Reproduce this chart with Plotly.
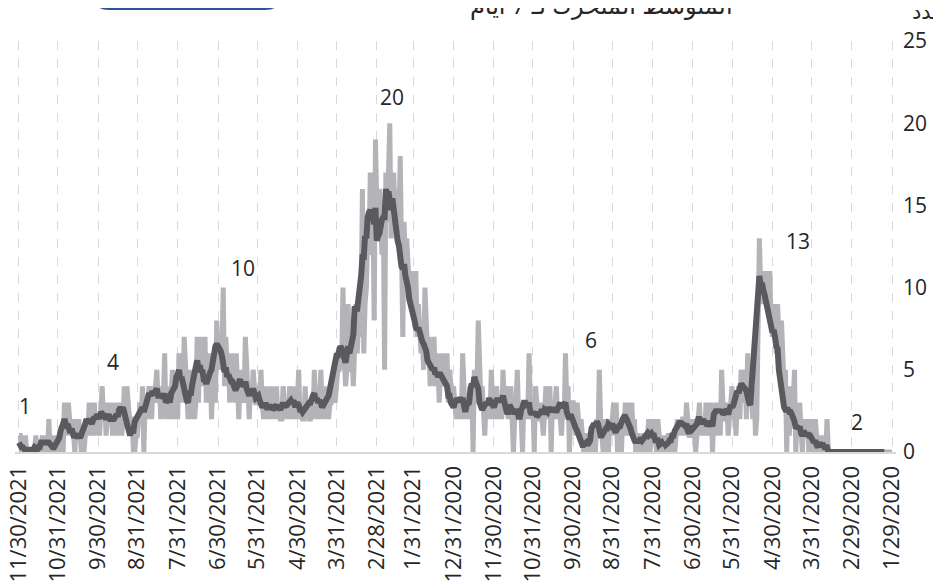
import pandas as pd
import plotly.graph_objects as go

# daily counts, one list per month (29 Jan 2020 -> 30 Nov 2021)
jan_2020 = [0, 0, 0]
feb_2020 = [0, 0, 0, 0, 0, 0, 0, 0, 0, 0, 0, 0, 0, 0, 0, 0, 0, 0, 0, 0, 0, 0, 0, 0, 0, 0, 0, 0, 0]
mar_2020 = [0, 0, 0, 0, 0, 0, 0, 0, 0, 0, 0, 0, 0, 0, 0, 0, 0, 0, 2, 0, 0, 1, 0, 0, 1, 0, 1, 2, 0, 1, 2]
apr_2020 = [1, 0, 2, 1, 1, 2, 0, 2, 3, 1, 2, 0, 5, 3, 2, 4, 1, 3, 0, 5, 4, 6, 8, 5, 7, 9, 6, 8, 9, 7]
may_2020 = [8, 11, 9, 11, 10, 11, 9, 11, 10, 13, 3, 2, 1, 4, 2, 3, 5, 4, 6, 2, 5, 3, 4, 5, 2, 4, 3, 1, 3, 2, 4]
jun_2020 = [3, 2, 1, 3, 2, 2, 3, 5, 1, 2, 2, 3, 1, 2, 0, 3, 2, 1, 2, 3, 1, 2, 2, 1, 3, 2, 1, 0, 2, 1]
jul_2020 = [2, 1, 1, 2, 3, 1, 2, 2, 1, 2, 1, 2, 1, 0, 0, 1, 0, 1, 1, 0, 0, 1, 0, 1, 0, 1, 2, 0, 1, 2, 1]
aug_2020 = [1, 0, 2, 1, 0, 1, 1, 0, 1, 0, 1, 1, 0, 2, 1, 3, 2, 3, 1, 2, 3, 1, 2, 0, 2, 1, 0, 3, 1, 3, 2]
sep_2020 = [1, 2, 0, 1, 1, 2, 0, 1, 2, 5, 1, 2, 0, 1, 0, 1, 0, 0, 1, 1, 0, 0, 1, 2, 1, 2, 3, 1, 2, 3]
oct_2020 = [3, 2, 0, 4, 3, 6, 2, 3, 1, 2, 3, 2, 4, 3, 2, 3, 0, 4, 3, 2, 4, 2, 1, 2, 3, 2, 2, 3, 4, 0, 3]
nov_2020 = [2, 3, 6, 2, 3, 2, 3, 0, 2, 3, 2, 5, 3, 2, 0, 3, 4, 3, 2, 3, 4, 3, 5, 2, 3, 2, 3, 4, 2, 3]
dec_2020 = [3, 5, 2, 3, 2, 3, 1, 3, 4, 3, 5, 8, 4, 3, 5, 0, 4, 3, 2, 3, 3, 2, 4, 6, 2, 3, 2, 3, 2, 3, 4]
jan_2021 = [3, 4, 5, 3, 6, 4, 5, 4, 6, 5, 3, 5, 6, 4, 7, 5, 6, 4, 7, 6, 8, 10, 5, 7, 6, 8, 9, 7, 11, 8, 9]
feb_2021 = [9, 11, 10, 12, 13, 11, 14, 7, 12, 18, 13, 15, 16, 14, 17, 15, 13, 20, 16, 14, 17, 5, 15, 12, 14, 16, 13, 15]
mar_2021 = [19, 8, 15, 16, 17, 12, 13, 10, 9, 6, 16, 9, 7, 8, 6, 9, 7, 4, 6, 5, 5, 9, 5, 4, 6, 10, 5, 6, 5, 5, 4]
apr_2021 = [3, 5, 4, 3, 3, 2, 3, 2, 4, 2, 3, 5, 3, 2, 4, 3, 5, 2, 3, 2, 2, 3, 2, 4, 2, 2, 3, 2, 5, 3]
may_2021 = [3, 2, 4, 2, 3, 4, 2, 3, 2, 3, 4, 2, 2, 3, 2, 4, 2, 3, 2, 4, 2, 3, 2, 4, 3, 2, 3, 5, 3, 4, 3]
jun_2021 = [3, 4, 5, 3, 4, 2, 4, 5, 7, 3, 4, 3, 5, 2, 4, 6, 3, 6, 4, 5, 3, 6, 5, 7, 4, 10, 6, 5, 7, 6]
jul_2021 = [8, 3, 5, 4, 2, 6, 4, 5, 3, 7, 4, 6, 5, 7, 3, 7, 3, 2, 4, 2, 3, 5, 2, 4, 5, 7, 3, 6, 4, 6, 2]
aug_2021 = [4, 3, 2, 5, 3, 2, 4, 3, 2, 6, 3, 4, 2, 4, 3, 5, 4, 3, 4, 2, 3, 4, 3, 2, 3, 0, 4, 2, 3, 2, 1]
sep_2021 = [1, 0, 0, 2, 2, 2, 3, 4, 2, 4, 2, 1, 3, 2, 1, 3, 2, 2, 1, 3, 2, 3, 2, 1, 3, 2, 4, 2, 1, 2]
oct_2021 = [2, 1, 3, 2, 1, 2, 3, 1, 2, 1, 0, 1, 0, 1, 2, 1, 2, 0, 1, 2, 1, 2, 3, 2, 1, 3, 0, 0, 0, 0, 1]
nov_2021 = [0, 1, 0, 0, 1, 0, 2, 0, 1, 0, 0, 1, 0, 0, 0, 0, 1, 0, 0, 0, 0, 0, 0, 0, 1, 0, 1, 0, 1, 1]

tick_dates = ["1/29/2020", "2/29/2020", "3/31/2020", "4/30/2020", "5/31/2020", "6/30/2020",
              "7/31/2020", "8/31/2020", "9/30/2020", "10/31/2020", "11/30/2020", "12/31/2020",
              "1/31/2021", "2/28/2021", "3/31/2021", "4/30/2021", "5/31/2021", "6/30/2021",
              "7/31/2021", "8/31/2021", "9/30/2021", "10/31/2021", "11/30/2021"]

daily = (jan_2020 + feb_2020 + mar_2020 + apr_2020 + may_2020 + jun_2020 + jul_2020 + aug_2020
         + sep_2020 + oct_2020 + nov_2020 + dec_2020 + jan_2021 + feb_2021 + mar_2021 + apr_2021
         + may_2021 + jun_2021 + jul_2021 + aug_2021 + sep_2021 + oct_2021 + nov_2021)
dates = pd.date_range("2020-01-29", "2021-11-30", freq="D")
assert len(daily) == len(dates)
ma7 = pd.Series(daily).rolling(7).mean()

ticks = pd.to_datetime(tick_dates, format="%m/%d/%Y")

fig = go.Figure()
fig.add_trace(go.Scatter(x=dates, y=daily, mode="lines",
                         line=dict(color="#b4b4b8", width=5), hoverinfo="skip"))
fig.add_trace(go.Scatter(x=dates, y=ma7, mode="lines",
                         line=dict(color="#5b595d", width=6)))

# page body has an 8px margin, so the figure is 8px smaller than the window
font = "Open Sans, Noto Sans, DejaVu Sans, sans-serif"
fig.update_layout(
    width=933, height=577,
    margin=dict(l=7, r=45, t=33, b=133),
    plot_bgcolor="white", paper_bgcolor="white",
    showlegend=False,
    font=dict(family=font, size=21, color="#262626"),
    xaxis=dict(type="date", range=["2021-12-03", "2020-01-26"],
               tickvals=ticks, ticktext=tick_dates, tickangle=-90,
               tickfont=dict(size=22, color="#262626"),
               showgrid=True, gridcolor="#d9d9d9", griddash="dash", gridwidth=1,
               showline=True, linecolor="#d9d9d9", linewidth=2,
               ticks="", ticklabelstandoff=3, ticklabeloverflow="allow",
               automargin=False),
    yaxis=dict(side="right", range=[0, 25], dtick=5,
               tickfont=dict(size=21, color="#262626"),
               showgrid=False, zeroline=False, showline=False,
               ticks="", ticklabelstandoff=6, automargin=False),
)

# peak labels
for d, v, t in [("2021-11-25", 2.8, "1"), ("2021-09-19", 5.5, "4"), ("2021-06-11", 11.2, "10"),
                ("2021-02-16", 21.6, "20"), ("2020-09-16", 6.8, "6"), ("2020-04-10", 12.85, "13"),
                ("2020-02-25", 1.8, "2")]:
    fig.add_annotation(x=d, y=v, text=t, showarrow=False, xref="x", yref="y",
                       font=dict(size=21, color="#262626"))

fig.add_annotation(x=0.666, y=1.0876, xref="paper", yref="paper", showarrow=False,
                   xanchor="center", yanchor="middle",
                   text="المتوسط المتحرك لـ 7 أيام", font=dict(size=24, color="#262626"))
fig.add_annotation(x=1.016, y=1.072, xref="paper", yref="paper", showarrow=False,
                   xanchor="left", yanchor="middle", text="عدد", font=dict(size=21, color="#262626"))

# legend box cut at the top
x0, x1, y0, y1 = 0.0885, 0.302, 1.078, 1.2
rx, ry = 0.018, 0.038
fig.add_shape(type="path", xref="paper", yref="paper",
              path=f"M {x0+rx},{y0} L {x1-rx},{y0} Q {x1},{y0} {x1},{y0+ry} L {x1},{y1} "
                   f"L {x0},{y1} L {x0},{y0+ry} Q {x0},{y0} {x0+rx},{y0} Z",
              fillcolor="#231f20", line=dict(color="#2e5597", width=2))

fig.write_html("out.html")
